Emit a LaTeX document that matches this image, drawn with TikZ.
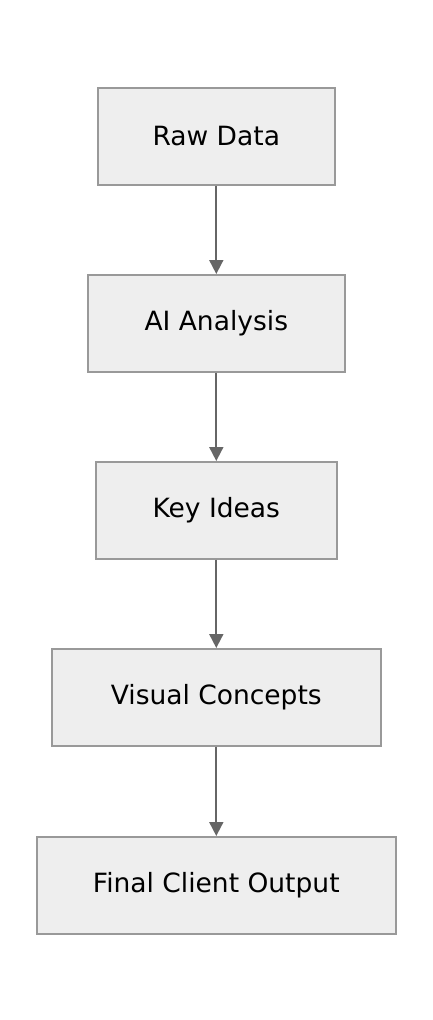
\documentclass[tikz,border=0pt]{standalone}
\usepackage{fontspec}
\setmainfont{DejaVu Sans}
\usetikzlibrary{arrows.meta}
\definecolor{boxfill}{HTML}{EEEEEE}
\definecolor{boxline}{HTML}{999999}
\definecolor{arrowc}{HTML}{666666}
\tikzset{
  flowbox/.style={draw=boxline, fill=boxfill, line width=1.6pt, inner sep=0pt, anchor=north west, font=\fontsize{26.5}{32}\selectfont, text=black},
  flowarrow/.style={draw=arrowc, line width=1.8pt, -{Triangle[length=14pt,width=14pt]}}
}
\begin{document}
\begin{tikzpicture}[x=1pt,y=1pt]
\useasboundingbox (0,0) rectangle (432,-1020);
\node[flowbox, minimum width=237pt, minimum height=97pt] (raw) at (97,-87) {Raw Data};
\node[flowbox, minimum width=257pt, minimum height=97pt] (ai) at (87,-274) {AI Analysis};
\node[flowbox, minimum width=241pt, minimum height=97pt] (key) at (95,-461) {Key Ideas};
\node[flowbox, minimum width=329pt, minimum height=97pt] (vis) at (51,-648) {Visual Concepts};
\node[flowbox, minimum width=359pt, minimum height=97pt] (fin) at (36,-836) {Final Client Output};
\draw[flowarrow] (raw.south) -- (ai.north);
\draw[flowarrow] (ai.south) -- (key.north);
\draw[flowarrow] (key.south) -- (vis.north);
\draw[flowarrow] (vis.south) -- (fin.north);
\end{tikzpicture}
\end{document}
